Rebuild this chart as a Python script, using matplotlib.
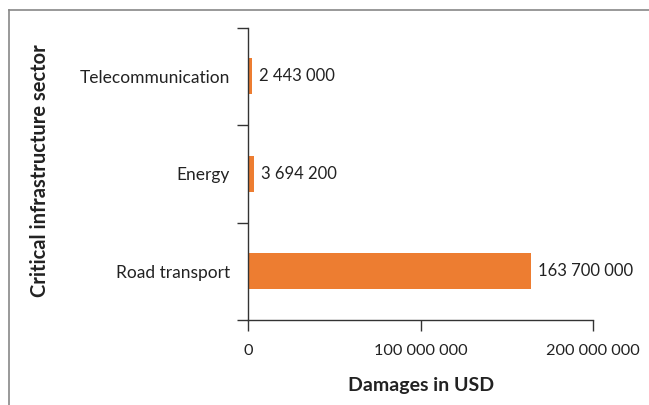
import matplotlib
matplotlib.use("Agg")
import matplotlib.pyplot as plt
from matplotlib.lines import Line2D

categories = ["Road transport", "Energy", "Telecommunication"]
values = [163700000, 3694200, 2443000]
xticks = [0, 100000000, 200000000]
xtick_labels = ["0", "100 000 000", "200 000 000"]

plt.rcParams['font.family'] = ['Lato', 'DejaVu Sans']

W, H = 649, 405
fig = plt.figure(figsize=(W/100, H/100), dpi=100)
ax = fig.add_axes([248/W, 1-320/H, (593.3-248)/W, (320-27.5)/H])

color = "#ED7D31"
y = list(range(len(categories)))
ax.barh(y, values, height=0.37, color=color)

def fmt(v):
    return f"{v:,}".replace(",", " ")

for yi, v in zip(y, values):
    ax.text(v + 4.0e6, yi, fmt(v), va="center", ha="left", fontsize=12, color="#222222")

ax.set_xlim(0, 200000000)
ax.set_ylim(-0.5, len(categories) - 0.5)
ax.set_xticks(xticks)
ax.set_xticklabels(xtick_labels, fontsize=11.7, color="#222222")
ax.set_yticks(y)
ax.set_yticklabels(categories, fontsize=12.5, color="#222222")
ax.set_yticks([-0.5, 0.5, 1.5, 2.5], minor=True)
ax.tick_params(axis="y", which="major", length=0, pad=13)
ax.tick_params(axis="y", which="minor", length=8, width=1, color="#333333")
ax.tick_params(axis="x", which="major", length=8, width=1, color="#333333", pad=9)

for s in ["top", "right"]:
    ax.spines[s].set_visible(False)
for s in ["left", "bottom"]:
    ax.spines[s].set_color("#333333")
    ax.spines[s].set_linewidth(1)

ax.set_xlabel("Damages in USD", fontsize=14, fontweight="bold", color="#222222", labelpad=14)
fig.text(40/W, 1-171/H, "Critical infrastructure sector", rotation=90, fontsize=14.5,
         fontweight="bold", color="#222222", ha="center", va="center")

# figure border (top and left visible)
fig.add_artist(Line2D([9/W, 1.0], [1-10/H, 1-10/H], transform=fig.transFigure, color="#888888", lw=1.2))
fig.add_artist(Line2D([9/W, 9/W], [1-10/H, 0.0], transform=fig.transFigure, color="#888888", lw=1.2))

fig.savefig("out.png", dpi=100)
